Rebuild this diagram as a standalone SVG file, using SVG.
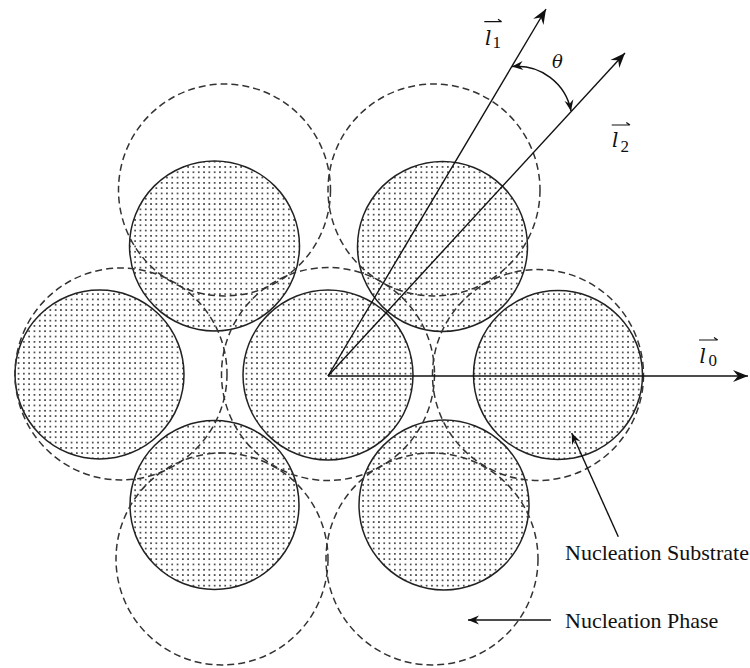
<svg xmlns="http://www.w3.org/2000/svg" width="750" height="668" viewBox="0 0 750 668">
  <defs>
    <pattern id="dots" patternUnits="userSpaceOnUse" x="0" y="0" width="5.3" height="5.3">
      <circle cx="2.65" cy="2.65" r="0.8" fill="#000"/>
    </pattern>
    <marker id="arrow" markerUnits="userSpaceOnUse" viewBox="-16 -7 17 14" refX="0" refY="0" markerWidth="17" markerHeight="14" orient="auto-start-reverse">
      <path d="M0,0 L-15,-6 L-10,0 L-15,6 Z" fill="#111"/>
    </marker>
    <marker id="arrowS" markerUnits="userSpaceOnUse" viewBox="-12 -6 13 12" refX="0" refY="0" markerWidth="13" markerHeight="12" orient="auto-start-reverse">
      <path d="M0,0 L-11,-4.5 L-7.5,0 L-11,4.5 Z" fill="#111"/>
    </marker>
  </defs>
  <style>
    .sub { fill: url(#dots); stroke: #222; stroke-width: 1.5; }
    .phase { fill: none; stroke: #333; stroke-width: 1.5; stroke-dasharray: 7 4; }
    .vec { stroke: #111; stroke-width: 1.4; fill: none; }
    .lbl { font-family: "Liberation Serif", "Times New Roman", serif; font-size: 22px; fill: #111; }
    .vl { font-family: "DejaVu Serif", "Liberation Serif", serif; font-style: italic; font-size: 20px; fill: #111; }
    .vs { font-family: "Liberation Serif", serif; font-size: 17px; fill: #111; }
    .bar { stroke: #111; stroke-width: 1.2; fill: none; }
  </style>
  <rect width="750" height="668" fill="#fff"/>

  <!-- substrate circles -->
  <g id="substrate-center"><circle class="sub" cx="328" cy="375" r="85"/></g>
  <g id="substrate-left"><circle class="sub" cx="99.5" cy="374.5" r="84.5"/></g>
  <g id="substrate-right"><circle class="sub" cx="558" cy="375" r="84.5"/></g>
  <g id="substrate-top-left"><circle class="sub" cx="214.5" cy="246" r="85"/></g>
  <g id="substrate-top-right"><circle class="sub" cx="442.5" cy="246.5" r="85"/></g>
  <g id="substrate-bottom-left"><circle class="sub" cx="214.5" cy="505" r="84.5"/></g>
  <g id="substrate-bottom-right"><circle class="sub" cx="444" cy="505" r="85"/></g>

  <!-- nucleation phase circles -->
  <g id="phase-center"><circle class="phase" cx="328" cy="374" r="106.5"/></g>
  <g id="phase-left"><circle class="phase" cx="121" cy="374" r="106"/></g>
  <g id="phase-right"><circle class="phase" cx="538" cy="375" r="105.5"/></g>
  <g id="phase-top-left"><circle class="phase" cx="224.5" cy="190" r="106"/></g>
  <g id="phase-top-right"><circle class="phase" cx="434" cy="190" r="106"/></g>
  <g id="phase-bottom-left"><circle class="phase" cx="222" cy="559" r="106"/></g>
  <g id="phase-bottom-right"><circle class="phase" cx="432" cy="559" r="106"/></g>

  <!-- connectors -->
  <g id="connectors">
    <line class="vec" x1="328" y1="376" x2="748" y2="376" marker-end="url(#arrow)"/>
    <line class="vec" x1="328" y1="376" x2="546" y2="9" marker-end="url(#arrow)"/>
    <line class="vec" x1="328" y1="376" x2="625" y2="53" marker-end="url(#arrow)"/>
    <path class="vec" d="M512,66.5 A55,55 0 0 1 571,111" marker-start="url(#arrowS)" marker-end="url(#arrowS)"/>
    <line class="vec" x1="618.3" y1="536.7" x2="571.7" y2="433" marker-end="url(#arrowS)"/>
    <line class="vec" x1="551" y1="620" x2="468" y2="620" marker-end="url(#arrowS)"/>
  </g>

  <!-- vector labels -->
  <g id="label-l1">
    <path class="bar" d="M484.3,21.7 H501.7 M501.7,21.7 L498,19.2"/>
    <text class="vl" x="485" y="45">l</text>
    <text class="vs" x="492.5" y="48.3">1</text>
  </g>
  <g id="label-l2">
    <path class="bar" d="M611.7,125 H630 M630,125 L626.3,122.5"/>
    <text class="vl" x="612" y="147">l</text>
    <text class="vs" x="620.5" y="151.5">2</text>
  </g>
  <g id="label-l0">
    <path class="bar" d="M699,340 H717.7 M717.7,340 L714,337.5"/>
    <text class="vl" x="699.5" y="363">l</text>
    <text class="vs" x="708.5" y="366">0</text>
  </g>
  <g id="label-theta">
    <text class="vl" x="552" y="68" style="font-size:18px">θ</text>
  </g>

  <g id="label-substrate"><text class="lbl" x="565" y="560">Nucleation Substrate</text></g>
  <g id="label-phase"><text class="lbl" x="565" y="628">Nucleation Phase</text></g>
</svg>
